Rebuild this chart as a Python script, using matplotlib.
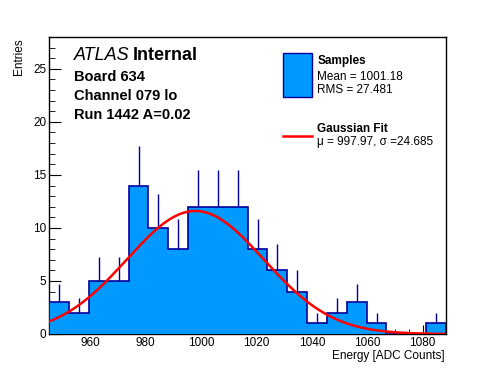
import numpy as np
import matplotlib
matplotlib.use("Agg")
import matplotlib.pyplot as plt
from matplotlib.patches import Rectangle
from matplotlib.lines import Line2D

plt.rcParams['font.family'] = ['Liberation Sans', 'DejaVu Sans']

# histogram data
x_min, x_max = 945.3, 1088.4
counts = [3, 2, 5, 5, 14, 10, 8, 12, 12, 12, 8, 6, 4, 1, 2, 3, 1, 0, 0, 1]
fit_mu = 997.97
fit_sigma = 24.685
fit_amp = 11.6

edges = np.linspace(x_min, x_max, len(counts) + 1)
centers = 0.5 * (edges[:-1] + edges[1:])
counts = np.array(counts, dtype=float)

W, H = 496, 372
fig = plt.figure(figsize=(W / 100, H / 100), dpi=100)
ax = fig.add_axes([49.3 / W, 1 - 334 / H, (446 - 49.3) / W, (334 - 37) / H])

fill_col = '#0099ff'
line_col = '#000099'

# error bars (only upper half shows above the fill)
nz = counts > 0
ax.vlines(centers[nz], counts[nz], counts[nz] + np.sqrt(counts[nz]),
          color=line_col, lw=1.0, zorder=2)
ax.stairs(counts, edges, fill=True, color=fill_col, zorder=3)
ax.stairs(counts, edges, color=line_col, lw=1.2, zorder=4)

# gaussian fit
xs = np.linspace(x_min, x_max, 400)
ax.plot(xs, fit_amp * np.exp(-(xs - fit_mu) ** 2 / (2 * fit_sigma ** 2)),
        color='red', lw=1.8, zorder=5)

ax.set_xlim(x_min, x_max)
ax.set_ylim(0, 28)
ax.set_xticks(np.arange(960, 1081, 20))
ax.set_xticks(np.arange(950, 1088, 5), minor=True)
ax.set_yticks(np.arange(0, 26, 5))
ax.set_yticks(np.arange(0, 29, 1), minor=True)
ax.tick_params(axis='both', which='both', direction='in', labelsize=8.5)
ax.tick_params(axis='x', which='major', length=6.5, pad=2)
ax.tick_params(axis='x', which='minor', length=3.3)
ax.tick_params(axis='y', which='major', length=8.5, pad=2)
ax.tick_params(axis='y', which='minor', length=4.5)
ax.tick_params(top=False, right=False, which='both')
for s in ax.spines.values():
    s.set_linewidth(1.0)

def ft(px, py, s, **kw):
    fig.text(px / W, 1 - py / H, s, **kw)

ft(445, 349.5, 'Energy [ADC Counts]', ha='right', va='top', fontsize=8.5)
ft(19, 38, 'Entries', ha='center', va='top', rotation=90, fontsize=8.5)

# labels
ft(73.5, 56, 'ATLAS', ha='left', va='center', fontsize=13, style='italic')
ft(133, 56, 'Internal', ha='left', va='center', fontsize=13, weight='bold')
ft(73.5, 76.7, 'Board 634', ha='left', va='center', fontsize=10.5, weight='bold')
ft(73.5, 95.5, 'Channel 079 lo', ha='left', va='center', fontsize=10.5, weight='bold')
ft(73.5, 114.7, 'Run 1442 A=0.02', ha='left', va='center', fontsize=10.5, weight='bold')

# legend
fig.add_artist(Rectangle((283.3 / W, 1 - 96.7 / H), (311.7 - 283.3) / W, (96.7 - 53.3) / H,
                         transform=fig.transFigure, facecolor=fill_col,
                         edgecolor=line_col, lw=1.0))
fig.add_artist(Line2D([283.3 / W, 311.7 / W], [1 - 136 / H, 1 - 136 / H],
                      transform=fig.transFigure, color='red', lw=1.8))
ft(317.3, 60.7, 'Samples', ha='left', va='center', fontsize=8.5, weight='bold')
ft(317.3, 76.7, 'Mean = 1001.18', ha='left', va='center', fontsize=8.5)
ft(317.3, 90, 'RMS = 27.481', ha='left', va='center', fontsize=8.5)
ft(317.3, 129.3, 'Gaussian Fit', ha='left', va='center', fontsize=8.5, weight='bold')
ft(317.3, 141.7, 'μ = 997.97, σ =24.685', ha='left', va='center', fontsize=8.5)

fig.savefig('out.png', dpi=100)
